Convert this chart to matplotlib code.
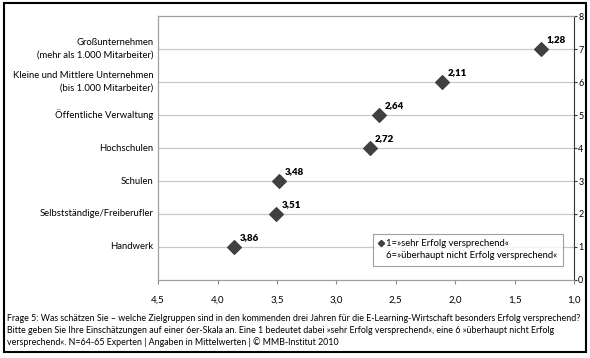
import matplotlib.pyplot as plt
from matplotlib.patches import Rectangle
from matplotlib.lines import Line2D

plt.rcParams['font.family'] = ['Lato', 'DejaVu Sans']

# data
categories = ['Großunternehmen\n(mehr als 1.000 Mitarbeiter)',
              'Kleine und Mittlere Unternehmen\n(bis 1.000 Mitarbeiter)',
              'Öffentliche Verwaltung',
              'Hochschulen',
              'Schulen',
              'Selbstständige/Freiberufler',
              'Handwerk']
means = [1.28, 2.11, 2.64, 2.72, 3.48, 3.51, 3.86]
positions = [7, 6, 5, 4, 3, 2, 1]
x_ticks = [4.5, 4.0, 3.5, 3.0, 2.5, 2.0, 1.5, 1.0]
legend_lines = ['1=»sehr Erfolg versprechend«', '6=»überhaupt nicht Erfolg versprechend«']

caption = ("Frage 5: Was schätzen Sie – welche Zielgruppen sind in den kommenden drei Jahren für die "
           "E-Learning-Wirtschaft besonders Erfolg versprechend?\n"
           "Bitte geben Sie Ihre Einschätzungen auf einer 6er-Skala an. Eine 1 bedeutet dabei "
           "»sehr Erfolg versprechend«, eine 6 »überhaupt nicht Erfolg\n"
           "versprechend«. N=64-65 Experten | Angaben in Mittelwerten | © MMB-Institut 2010")

fig = plt.figure(figsize=(5.9, 3.58), dpi=100)
ax = fig.add_axes([0.268, 0.218, 0.705, 0.737])

for p in positions:
    ax.axhline(p, color='#c8c8c8', lw=0.9, zorder=1)

ax.scatter(means, positions, marker='D', s=48, color='#404040', zorder=3)
for m, p in zip(means, positions):
    ax.annotate(('%.2f' % m).replace('.', ','), (m, p), xytext=(4, 5),
                textcoords='offset points', fontsize=7, fontweight='heavy',
                color='black')

ax.set_xlim(4.5, 1.0)
ax.set_ylim(0, 8)
ax.set_xticks(x_ticks)
ax.set_xticklabels([('%.1f' % t).replace('.', ',') for t in x_ticks])
ax.tick_params(axis='x', length=3, color='#888888', labelsize=7, pad=8,
               labelcolor='black')

ax.yaxis.tick_right()
ax.set_yticks(range(0, 9))
ax.tick_params(axis='y', length=2.5, labelsize=6.5, pad=0.5, color='#333333',
               labelcolor='black')

for s in ['top', 'left', 'bottom']:
    ax.spines[s].set_color('#a0a0a0')
    ax.spines[s].set_linewidth(0.9)
ax.spines['right'].set_color('#333333')

for c, p in zip(categories, positions):
    ax.text(-0.012, p, c, transform=ax.get_yaxis_transform(), ha='right',
            va='center', fontsize=6.8, linespacing=1.5, color='black')

handles = [Line2D([], [], marker='D', ls='none', color='#404040', markersize=3.2),
           Line2D([], [], ls='none')]
leg = ax.legend(handles, legend_lines,
                loc='lower right', bbox_to_anchor=(0.985, 0.035), fontsize=6.8,
                frameon=True, fancybox=False, handlelength=0.5, handletextpad=0.3,
                borderpad=0.6, labelspacing=0.3)
leg.get_frame().set_edgecolor('#888888')
leg.get_frame().set_linewidth(0.8)

fig.text(0.012, 0.122, caption, fontsize=6.4, va='top', ha='left', linespacing=1.35)

fig.patches.append(Rectangle((0.006, 0.018), 0.988, 0.975, transform=fig.transFigure,
                             fill=False, edgecolor='black', lw=1.5))

plt.savefig('out.png', dpi=100)
